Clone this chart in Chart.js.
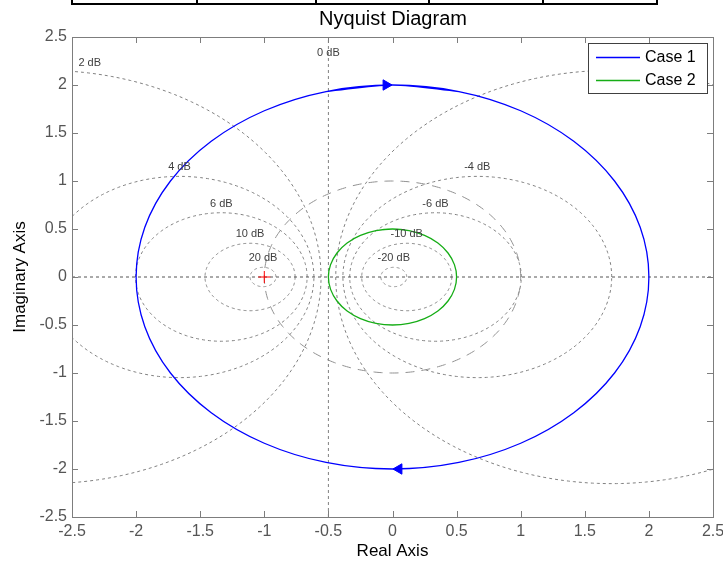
<!DOCTYPE html>
<html>
<head>
<meta charset="utf-8">
<script src="https://cdn.jsdelivr.net/npm/chart.js@4.4.1/dist/chart.umd.min.js"></script>
<style>
  html, body { margin: 0; padding: 0; background: #fff; }
  #wrap { width: 723px; height: 564px; }
</style>
</head>
<body>
<div id="wrap"><canvas id="nyquist" width="723" height="564"></canvas></div>
<script>
// ─── DATA ────────────────────────────────────────────────────────────────────

const axisTicks = [-2.5, -2, -1.5, -1, -0.5, 0, 0.5, 1, 1.5, 2, 2.5];
const gridDb    = [-20, -10, -6, -4, -2, 0, 2, 4, 6, 10, 20];

// Case 1, clockwise, one step of overlap so the loop closes smoothly
const case1Re = [-0.518, 0, 0.518, 1, 1.414, 1.732, 1.932, 2, 1.932, 1.732, 1.414, 1, 0.518,
                 0, -0.518, -1, -1.414, -1.732, -1.932, -2, -1.932, -1.732, -1.414, -1, -0.518, 0, 0.518];
const case1Im = [1.932, 2, 1.932, 1.732, 1.414, 1, 0.518, 0, -0.518, -1, -1.414, -1.732, -1.932,
                 -2, -1.932, -1.732, -1.414, -1, -0.518, 0, 0.518, 1, 1.414, 1.732, 1.932, 2, 1.932];

// Case 2
const case2Re = [-0.129, 0, 0.129, 0.25, 0.354, 0.433, 0.483, 0.5, 0.483, 0.433, 0.354, 0.25, 0.129,
                 0, -0.129, -0.25, -0.354, -0.433, -0.483, -0.5, -0.483, -0.433, -0.354, -0.25, -0.129, 0, 0.129];
const case2Im = [0.483, 0.5, 0.483, 0.433, 0.354, 0.25, 0.129, 0, -0.129, -0.25, -0.354, -0.433, -0.483,
                 -0.5, -0.483, -0.433, -0.354, -0.25, -0.129, 0, 0.129, 0.25, 0.354, 0.433, 0.483, 0.5, 0.483];

// direction arrows on case 1
const arrowRe  = [-0.05, 0.05];
const arrowIm  = [2, -2];
const arrowRot = [90, 270];

const criticalRe = [-1];
const criticalIm = [0];

// ─── BUILD ───────────────────────────────────────────────────────────────────

const xy = (re, im) => re.map((v, i) => ({ x: v, y: im[i] }));

// M-circle of a closed-loop gain in dB
function mCircle(db) {
  const m = Math.pow(10, db / 20), m2 = m * m;
  return { c: m2 / (1 - m2), r: Math.abs(m / (1 - m2)) };
}

function circlePoints(c, r) {
  const pts = [];
  for (let k = 0; k <= 360; k++) {
    const a = k * Math.PI / 180;
    pts.push({ x: c + r * Math.cos(a), y: r * Math.sin(a) });
  }
  return pts;
}

const GRID = '#808080';
const gridSets = gridDb.map(db => {
  const data = db === 0
    ? [{ x: -0.5, y: -2.5 }, { x: -0.5, y: 2.5 }]
    : (() => { const m = mCircle(db); return circlePoints(m.c, m.r); })();
  return {
    data, showLine: true, borderColor: GRID, borderWidth: 1,
    borderDash: [3, 3], pointRadius: 0, tension: 0
  };
});

const datasets = [
  { label: 'Case 1', data: xy(case1Re, case1Im), showLine: true, borderColor: '#0000ff',
    borderWidth: 1.3, pointRadius: 0, tension: 0.33 },
  { label: 'Case 2', data: xy(case2Re, case2Im), showLine: true, borderColor: '#16ad16',
    borderWidth: 1.3, pointRadius: 0, tension: 0.33 },
  { data: xy(arrowRe, arrowIm), showLine: false, pointStyle: 'triangle', pointRadius: 6,
    rotation: arrowRot, backgroundColor: '#0000ff', borderColor: '#0000ff', borderWidth: 1 },
  { data: xy(criticalRe, criticalIm), showLine: false, pointStyle: 'cross', pointRadius: 6,
    borderColor: '#ff0000', borderWidth: 1 },
  // real axis
  { data: [{ x: -2.5, y: 0 }, { x: 2.5, y: 0 }], showLine: true, borderColor: '#555',
    borderWidth: 1, borderDash: [3, 3], pointRadius: 0 },
  // unit circle
  { data: circlePoints(0, 1), showLine: true, borderColor: '#909090', borderWidth: 1,
    borderDash: [9, 7], pointRadius: 0 },
  ...gridSets
];

// ─── DECORATION ──────────────────────────────────────────────────────────────

const decor = {
  id: 'decor',
  beforeDraw(chart) {
    const ctx = chart.ctx;
    ctx.save();
    // tail of the table above the figure
    ctx.strokeStyle = '#000';
    ctx.lineWidth = 2;
    ctx.beginPath();
    ctx.moveTo(72, 4); ctx.lineTo(657, 4);
    [72, 197, 316, 429, 543, 657].forEach(x => { ctx.moveTo(x, 0); ctx.lineTo(x, 5); });
    ctx.stroke();
    ctx.fillStyle = '#000';
    ctx.font = '20px Arial, "Liberation Sans"';
    ctx.textAlign = 'center';
    ctx.textBaseline = 'middle';
    ctx.fillText('Nyquist Diagram', 393, 19);
    ctx.restore();
  },
  afterDatasetsDraw(chart) {
    const { ctx, chartArea: a, scales: { x, y } } = chart;
    ctx.save();

    // dB labels
    ctx.font = '11px Arial, "Liberation Sans"';
    ctx.fillStyle = '#404040';
    ctx.textBaseline = 'middle';
    gridDb.forEach(db => {
      const txt = db + ' dB';
      if (db === 0) {
        ctx.textAlign = 'center';
        ctx.fillText(txt, x.getPixelForValue(-0.5), a.top + 16);
        return;
      }
      const m = mCircle(db);
      let cx = m.c, align = 'center';
      if (cx < x.min) { cx = x.min + 0.05; align = 'left'; }
      const cy = Math.sqrt(Math.max(0, m.r * m.r - (cx - m.c) * (cx - m.c)));
      ctx.textAlign = align;
      ctx.fillText(txt, x.getPixelForValue(cx), y.getPixelForValue(cy) - 9);
    });

    // axes box with inner ticks
    ctx.strokeStyle = '#7d7d7d';
    ctx.lineWidth = 1;
    ctx.strokeRect(a.left + 0.5, a.top + 0.5, a.right - a.left, a.bottom - a.top);
    ctx.beginPath();
    axisTicks.forEach(v => {
      const px = Math.round(x.getPixelForValue(v)) + 0.5;
      ctx.moveTo(px, a.top); ctx.lineTo(px, a.top + 6);
      ctx.moveTo(px, a.bottom); ctx.lineTo(px, a.bottom - 6);
      const py = Math.round(y.getPixelForValue(v)) + 0.5;
      ctx.moveTo(a.left, py); ctx.lineTo(a.left + 6, py);
      ctx.moveTo(a.right, py); ctx.lineTo(a.right - 6, py);
    });
    ctx.stroke();

    // legend
    const lx = 588, ly = 43, lw = 119, lh = 50;
    ctx.fillStyle = '#fff';
    ctx.fillRect(lx, ly, lw, lh);
    ctx.strokeStyle = '#404040';
    ctx.strokeRect(lx + 0.5, ly + 0.5, lw, lh);
    ctx.font = '16px Arial, "Liberation Sans"';
    ctx.textAlign = 'left';
    [chart.data.datasets[0], chart.data.datasets[1]].forEach((d, i) => {
      const yy = ly + 14 + i * 23;
      ctx.strokeStyle = d.borderColor;
      ctx.lineWidth = 1.3;
      ctx.beginPath(); ctx.moveTo(596, yy + 0.5); ctx.lineTo(640, yy + 0.5); ctx.stroke();
      ctx.fillStyle = '#000';
      ctx.fillText(d.label, 645, yy + 1);
    });
    ctx.restore();
  }
};

// ─── CHART ───────────────────────────────────────────────────────────────────

const tickFont = { family: 'Arial, "Liberation Sans"', size: 16 };
const setTicks = s => { s.ticks = axisTicks.map(v => ({ value: v })); };
const fmt = v => String(v);

new Chart(document.getElementById('nyquist'), {
  type: 'scatter',
  data: { datasets },
  options: {
    responsive: false,
    animation: false,
    layout: { padding: { top: 37, right: 10, left: 0, bottom: 0 } },
    plugins: { legend: { display: false }, tooltip: { enabled: false } },
    scales: {
      x: {
        min: -2.5, max: 2.5,
        afterBuildTicks: setTicks,
        afterFit: s => { s.height = 47; s.paddingLeft = 0; s.paddingRight = 0; },
        grid: { display: false, drawTicks: false },
        border: { display: false },
        ticks: { color: '#555', font: tickFont, padding: 5, maxRotation: 0, autoSkip: false, callback: fmt },
        title: { display: true, text: 'Real Axis', color: '#000',
                 font: { family: 'Arial, "Liberation Sans"', size: 17 }, padding: { bottom: 2, top: 0 } }
      },
      y: {
        min: -2.5, max: 2.5,
        afterBuildTicks: setTicks,
        afterFit: s => { s.width = 72; s.paddingTop = 0; s.paddingBottom = 0; },
        grid: { display: false, drawTicks: false },
        border: { display: false },
        ticks: { color: '#555', font: tickFont, padding: 5, autoSkip: false, callback: fmt },
        title: { display: true, text: 'Imaginary Axis', color: '#000',
                 font: { family: 'Arial, "Liberation Sans"', size: 17 }, padding: { top: 10, bottom: 0 } }
      }
    }
  },
  plugins: [decor]
});
</script>
</body>
</html>
